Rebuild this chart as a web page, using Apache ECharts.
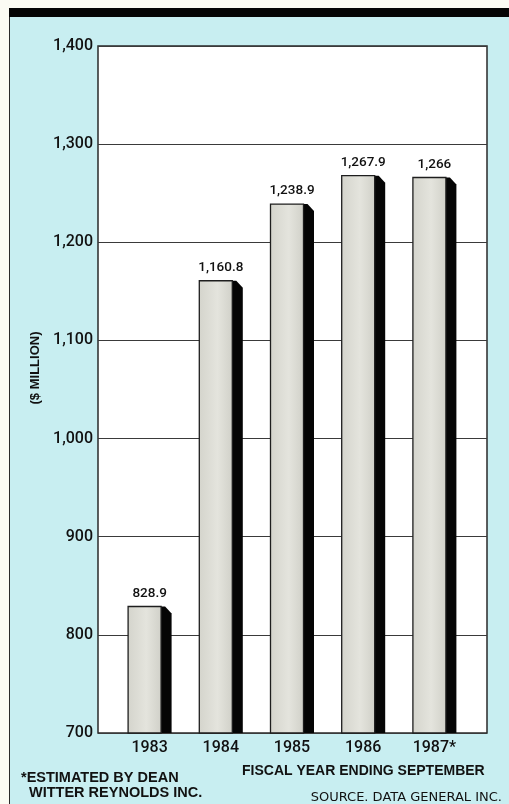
<!DOCTYPE html>
<html>
<head>
<meta charset="utf-8">
<script src="https://cdn.jsdelivr.net/npm/echarts@6/dist/echarts.min.js"></script>
<style>
  html, body { margin:0; padding:0; background:#fbfbf3; }
  #panel { position:absolute; left:9px; top:8px; width:500px; height:796px; background:#c8eef1; border-left:1.5px solid #2a2a2a; box-sizing:border-box; }
  #topbar { position:absolute; left:9px; top:8px; width:500px; height:9px; background:#050505; }
  #main { position:absolute; left:0; top:0; width:509px; height:804px; }
</style>
</head>
<body>
<div id="panel"></div>
<div id="topbar"></div>
<div id="main"></div>
<script>
// ---- data ----
const categories = ['1983', '1984', '1985', '1986', '1987*'];
const revenue = [828.9, 1160.8, 1238.9, 1267.9, 1266];
const yTicks = [700, 800, 900, 1000, 1100, 1200, 1300, 1400];
const yAxisName = '($ MILLION)';
const xAxisTitle = 'FISCAL YEAR ENDING SEPTEMBER';
const footnote = ['*ESTIMATED BY DEAN', 'WITTER REYNOLDS INC.'];
const sourceNote = 'SOURCE. DATA GENERAL INC.';

const yMin = yTicks[0], yMax = yTicks[yTicks.length - 1], yStep = yTicks[1] - yTicks[0];
const fmt = v => v.toLocaleString('en-US');
const SANS = "'Liberation Sans', Arial, sans-serif";
const ROBO = "Roboto, 'Liberation Sans', sans-serif";

const chart = echarts.init(document.getElementById('main'), null, { renderer: 'canvas' });

chart.setOption({
  backgroundColor: 'transparent',
  animation: false,
  grid: [
    { left: 98, top: 46, width: 389, height: 687, show: true, backgroundColor: '#ffffff', borderColor: '#2a2a2a', borderWidth: 1.5 },
    { left: 114, top: 46, width: 356, height: 687, show: false }
  ],
  xAxis: [
    { type: 'value', gridIndex: 0, show: false, min: 0, max: 1 },
    { type: 'category', gridIndex: 1, data: categories,
      axisLine: { show: false }, axisTick: { show: false },
      axisLabel: { fontFamily: ROBO, fontWeight: 500, fontSize: 16, color: '#111', margin: 7 } }
  ],
  yAxis: [
    { type: 'value', gridIndex: 0, min: yMin, max: yMax, interval: yStep,
      axisLine: { show: false }, axisTick: { show: false },
      splitLine: { show: true, lineStyle: { color: '#3a3a3a', width: 1 } },
      axisLabel: { fontFamily: ROBO, fontWeight: 500, fontSize: 16, color: '#111', margin: 5, formatter: v => fmt(v) } },
    { type: 'value', gridIndex: 1, min: yMin, max: yMax, show: false }
  ],
  series: [{
    type: 'custom',
    xAxisIndex: 1, yAxisIndex: 1,
    data: revenue.map((v, i) => [i, v]),
    renderItem: function (params, api) {
      const p = api.coord([api.value(0), api.value(1)]);
      const b = api.coord([api.value(0), yMin]);
      const cx = p[0], top = p[1], bottom = b[1];
      const fl = cx - 21.5, fr = cx + 11.5, sr = cx + 22;
      return {
        type: 'group',
        children: [
          { type: 'polygon', shape: { points: [[fr - 1, top], [fr + 4, top], [sr, top + 7], [sr, bottom], [fr - 1, bottom]] },
            style: { fill: '#050505' } },
          { type: 'rect', shape: { x: fl, y: top, width: fr - fl, height: bottom - top },
            style: { fill: new echarts.graphic.LinearGradient(0, 0, 1, 0, [
                { offset: 0, color: '#d4d4cc' }, { offset: 0.55, color: '#e4e4dd' }, { offset: 1, color: '#d0d0c8' }]),
              stroke: '#1e1e1e', lineWidth: 1.3 } },
          { type: 'text', x: cx, y: top - 6,
            style: { text: fmt(api.value(1)), fontFamily: ROBO, fontWeight: 500, fontSize: 13.5, fill: '#111',
              align: 'center', verticalAlign: 'bottom' } }
        ]
      };
    }
  }],
  graphic: [
    { type: 'text', x: 35, y: 368, rotation: Math.PI / 2,
      style: { text: yAxisName, fontFamily: SANS, fontSize: 13, fontWeight: 'bold', fill: '#111', align: 'center', verticalAlign: 'middle' } },
    { type: 'text', left: 21, top: 770,
      style: { text: footnote[0], fontFamily: SANS, fontSize: 14.5, fontWeight: 'bold', fill: '#111' } },
    { type: 'text', left: 29, top: 785,
      style: { text: footnote[1], fontFamily: SANS, fontSize: 14.5, fontWeight: 'bold', fill: '#111' } },
    { type: 'text', left: 242, top: 764,
      style: { text: xAxisTitle, fontFamily: SANS, fontSize: 14, fontWeight: 'bold', fill: '#111' } },
    { type: 'text', right: 7, top: 791,
      style: { text: sourceNote, fontFamily: "'DejaVu Sans', sans-serif", fontSize: 13, fill: '#111' } }
  ]
});
</script>
</body>
</html>
